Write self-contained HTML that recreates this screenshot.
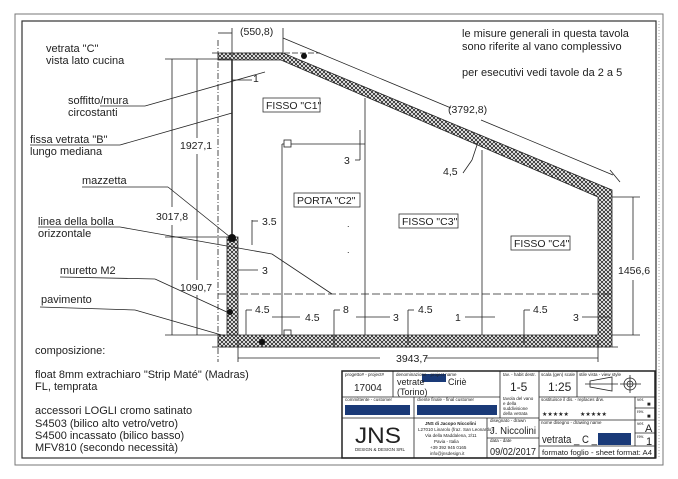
<!DOCTYPE html>
<html><head><meta charset="utf-8"><style>
html,body{margin:0;padding:0;background:#fff;width:678px;height:479px;overflow:hidden}
svg{display:block}
text{font-family:"Liberation Sans",sans-serif;fill:#222}
</style></head><body>
<svg width="678" height="479" viewBox="0 0 678 479" xmlns="http://www.w3.org/2000/svg">
<defs>
<pattern id="h" width="4" height="4" patternUnits="userSpaceOnUse">
<rect width="4" height="4" fill="#fff"/>
<path d="M0,0L4,4M4,0L0,4" stroke="#222" stroke-width="0.8"/>
</pattern>
</defs>
<rect x="15" y="14" width="648" height="451" fill="none" stroke="#777" stroke-width="1"/>
<rect x="22" y="21" width="634" height="437" fill="none" stroke="#333" stroke-width="1.2"/>
<line x1="659" y1="21" x2="659" y2="458" stroke="#aaa" stroke-dasharray="1,2"/>

<g stroke="#222" fill="none" stroke-width="0.8">
<polygon points="218,53 283,53 612,190 612,347 218,347 218,335 598,335 598,197 281,60 238,60 218,60" fill="url(#h)"/>
<rect x="227" y="237" width="11" height="98" fill="url(#h)"/>
<line x1="232" y1="60" x2="232" y2="237" stroke-width="1.5"/>
<line x1="365" y1="98" x2="365" y2="335"/>
<line x1="482" y1="150" x2="482" y2="335"/>
<line x1="282" y1="144" x2="282" y2="335"/>
<line x1="282" y1="144" x2="365" y2="144"/>
<rect x="284" y="140" width="7" height="7" fill="#fff"/>
<rect x="284" y="330" width="7" height="5" fill="#fff"/>
<line x1="218" y1="294" x2="612" y2="294" stroke-dasharray="8,3"/>
<line x1="218" y1="40" x2="218" y2="362" stroke-dasharray="6,2,1,2"/>
<line x1="212" y1="53" x2="320" y2="53" stroke-dasharray="6,2"/>
<line x1="212" y1="347" x2="620" y2="347" stroke-dasharray="6,2"/>
<line x1="238" y1="340" x2="238" y2="362"/>
<line x1="598" y1="340" x2="598" y2="362"/>
<line x1="238" y1="358" x2="380" y2="358"/>
<line x1="425" y1="358" x2="598" y2="358"/>
<line x1="232" y1="28" x2="232" y2="55"/>
<line x1="283" y1="28" x2="283" y2="53"/>
<line x1="218" y1="33" x2="232" y2="33"/>
<line x1="283" y1="38" x2="451" y2="108"/>
<line x1="481" y1="120" x2="613" y2="175"/>
<line x1="610" y1="170" x2="620" y2="182"/>
<line x1="612" y1="197" x2="640" y2="197"/>
<line x1="612" y1="335" x2="640" y2="335"/>
<line x1="633" y1="197" x2="633" y2="260"/>
<line x1="633" y1="280" x2="633" y2="335"/>
<line x1="165" y1="59" x2="232" y2="59"/>
<line x1="165" y1="237" x2="232" y2="237"/>
<line x1="165" y1="335" x2="225" y2="335"/>
<line x1="172" y1="59" x2="172" y2="207"/>
<line x1="172" y1="225" x2="172" y2="335"/>
<line x1="197" y1="59" x2="197" y2="138"/>
<line x1="197" y1="154" x2="197" y2="280"/>
<line x1="197" y1="295" x2="197" y2="335"/>
<line x1="232" y1="80" x2="252" y2="80"/>
<line x1="252" y1="220" x2="252" y2="245"/><line x1="252" y1="221" x2="258" y2="221"/>
<line x1="238" y1="270" x2="258" y2="270"/>
<line x1="360" y1="130" x2="360" y2="160"/><line x1="355" y1="160" x2="360" y2="160"/>
<line x1="246" y1="310" x2="246" y2="335"/><line x1="246" y1="310" x2="252" y2="310"/>
<line x1="272" y1="317" x2="300" y2="317"/>
<line x1="334" y1="310" x2="334" y2="345"/><line x1="334" y1="310" x2="340" y2="310"/>
<line x1="356" y1="317" x2="390" y2="317"/>
<line x1="408" y1="310" x2="408" y2="345"/><line x1="408" y1="310" x2="414" y2="310"/>
<line x1="465" y1="317" x2="495" y2="317"/>
<line x1="524" y1="310" x2="524" y2="345"/><line x1="524" y1="310" x2="530" y2="310"/>
<line x1="582" y1="317" x2="610" y2="317"/>
<line x1="463" y1="173" x2="472" y2="160"/><line x1="472" y1="160" x2="478" y2="142"/>
<line x1="100" y1="106" x2="145" y2="106"/><line x1="145" y1="106" x2="265" y2="72"/>
<line x1="30" y1="145" x2="120" y2="145"/><line x1="120" y1="145" x2="232" y2="113"/>
<line x1="82" y1="187" x2="168" y2="187"/><line x1="168" y1="187" x2="230" y2="237"/>
<line x1="38" y1="227" x2="120" y2="227"/><line x1="120" y1="227" x2="272" y2="254"/><line x1="272" y1="254" x2="332" y2="294"/>
<line x1="60" y1="277" x2="155" y2="279"/><line x1="155" y1="279" x2="229" y2="313"/>
<line x1="40" y1="307" x2="135" y2="310"/><line x1="135" y1="310" x2="225" y2="336"/>
</g>
<circle cx="232" cy="238" r="4" fill="#111"/>
<circle cx="230" cy="312" r="3" fill="#111"/>
<circle cx="262" cy="342" r="3" fill="#111"/>
<circle cx="304" cy="56" r="3" fill="#111"/>

<g fill="#fff" stroke="#333" stroke-width="0.8">
<rect x="263" y="98" width="57" height="14"/>
<rect x="294" y="193" width="66" height="14"/>
<rect x="399" y="214" width="59" height="14"/>
<rect x="511" y="236" width="59" height="14"/>
</g>
<g font-size="10.5">
<text x="266" y="109">FISSO "C1"</text>
<text x="297" y="204">PORTA "C2"</text>
<text x="402" y="225">FISSO "C3"</text>
<text x="514" y="247">FISSO "C4"</text>
<text x="240" y="35">(550,8)</text>
<text x="448" y="113">(3792,8)</text>
<text x="396" y="362">3943,7</text>
<text x="618" y="274">1456,6</text>
<text x="180" y="149">1927,1</text>
<text x="156" y="220">3017,8</text>
<text x="180" y="291">1090,7</text>
<text x="253" y="82">1</text>
<text x="262" y="225">3.5</text>
<text x="262" y="274">3</text>
<text x="344" y="164">3</text>
<text x="443" y="175">4,5</text>
<text x="255" y="313">4.5</text>
<text x="305" y="321">4.5</text>
<text x="343" y="313">8</text>
<text x="393" y="321">3</text>
<text x="418" y="313">4.5</text>
<text x="455" y="321">1</text>
<text x="533" y="313">4.5</text>
<text x="573" y="321">3</text>
</g>
<text x="347" y="227" font-size="9">.</text><text x="347" y="253" font-size="9">.</text>

<g font-size="11">
<text x="46" y="52">vetrata "C"</text>
<text x="46" y="64">vista lato cucina</text>
<text x="68" y="104">soffitto/mura</text>
<text x="68" y="116">circostanti</text>
<text x="30" y="143">fissa vetrata "B"</text>
<text x="30" y="155">lungo mediana</text>
<text x="82" y="184">mazzetta</text>
<text x="38" y="225">linea della bolla</text>
<text x="38" y="237">orizzontale</text>
<text x="60" y="274">muretto M2</text>
<text x="41" y="303">pavimento</text>
<text x="35" y="354">composizione:</text>
<text x="35" y="378">float 8mm extrachiaro "Strip Maté" (Madras)</text>
<text x="35" y="390">FL, temprata</text>
<text x="35" y="414">accessori LOGLI cromo satinato</text>
<text x="35" y="427">S4503 (bilico alto vetro/vetro)</text>
<text x="35" y="439">S4500 incassato (bilico basso)</text>
<text x="35" y="451">MFV810 (secondo necessità)</text>
<text x="462" y="37">le misure generali in questa tavola</text>
<text x="462" y="50">sono riferite al vano complessivo</text>
<text x="462" y="76">per esecutivi vedi tavole da 2 a 5</text>
</g>

<g stroke="#222" fill="none" stroke-width="0.8">
<rect x="342" y="371" width="313" height="87" stroke-width="1.5"/>
<line x1="342" y1="397" x2="500" y2="397"/>
<line x1="342" y1="418" x2="539" y2="418"/>
<line x1="393" y1="371" x2="393" y2="397"/>
<line x1="500" y1="371" x2="500" y2="418"/>
<line x1="539" y1="371" x2="539" y2="458"/>
<line x1="577" y1="371" x2="577" y2="397"/>
<line x1="539" y1="397" x2="655" y2="397"/>
<line x1="414" y1="397" x2="414" y2="458"/>
<line x1="487" y1="418" x2="487" y2="458"/>
<line x1="487" y1="438" x2="539" y2="438"/>
<line x1="539" y1="420" x2="655" y2="420"/>
<line x1="539" y1="446" x2="655" y2="446"/>
<line x1="635" y1="397" x2="635" y2="446"/>
<line x1="635" y1="408" x2="655" y2="408"/>
<line x1="635" y1="433" x2="655" y2="433"/>
<path d="M590,381 L612,377 L612,391 L590,387 Z M585,384 L618,384"/>
<circle cx="630" cy="384" r="6"/><circle cx="630" cy="384" r="3"/>
<path d="M620,384 L641,384 M630,375 L630,393"/>
</g>
<g fill="#1a3a78">
<rect x="422" y="374" width="24" height="8"/>
<rect x="345" y="405" width="65" height="10"/>
<rect x="417" y="405" width="80" height="10"/>
<rect x="598" y="433" width="33" height="12"/>
</g>
<g font-size="4.5" fill="#444">
<text x="345" y="376">progetto# - project#</text>
<text x="396" y="376">denominazione - project name</text>
<text x="503" y="376">tav. - habit destr.</text>
<text x="541" y="376">scala (gen) scale</text>
<text x="579" y="376">stile vista - view style</text>
<text x="345" y="401">committente - customer</text>
<text x="417" y="401">cliente finale - final customer</text>
<text x="503" y="400">tavola del vano</text>
<text x="503" y="405">e della</text>
<text x="503" y="410">suddivisione</text>
<text x="503" y="415">della vetrata</text>
<text x="541" y="401">sostituisce il dis. - replaces drw.</text>
<text x="490" y="422">disegnato - drawn</text>
<text x="490" y="442">data - date</text>
<text x="541" y="424">nome disegno - drawing name</text>
<text x="637" y="401">ver.</text><text x="637" y="413">rev.</text>
<text x="637" y="425">ver.</text><text x="637" y="438">rev.</text>
<text x="425" y="425" font-weight="bold">JNS di Jacopo Niccolini</text>
<text x="418" y="431">L27010 Linarolo (fraz. San Leonardo)</text>
<text x="425" y="437">Via della Maddalena, 2/11</text>
<text x="434" y="443">Pavia - Italia</text>
<text x="430" y="449">+39 392 945 0165</text>
<text x="430" y="455">info@jnsdesign.it</text>
<text x="355" y="451" fill="#889">DESIGN &amp; DESIGN SRL</text>
</g>
<g font-size="9">
<text x="354" y="391" font-size="10">17004</text>
<text x="397" y="385">vetrate</text>
<text x="448" y="385">Ciriè</text>
<text x="397" y="395">(Torino)</text>
<text x="510" y="391" font-size="12">1-5</text>
<text x="548" y="391" font-size="12">1:25</text>
<text x="542" y="416" font-size="6">★★★★★</text>
<text x="580" y="416" font-size="6">★★★★★</text>
<text x="490" y="434" font-size="10" textLength="46" lengthAdjust="spacingAndGlyphs">J. Niccolini</text>
<text x="490" y="455" font-size="10" textLength="46" lengthAdjust="spacingAndGlyphs">09/02/2017</text>
<text x="542" y="443" font-size="11" textLength="55" lengthAdjust="spacingAndGlyphs">vetrata _ C _</text>
<text x="542" y="455" font-size="7" textLength="110" lengthAdjust="spacingAndGlyphs">formato foglio - sheet format: A4</text>
<text x="647" y="406" font-size="6">■</text>
<text x="647" y="418" font-size="6">■</text>
<text x="645" y="432" font-size="11">A</text>
<text x="646" y="445" font-size="11">1</text>
</g>
<text x="355" y="443" font-size="22" fill="#6f8fc0" textLength="46" lengthAdjust="spacingAndGlyphs">JNS</text>
</svg>
</body></html>
